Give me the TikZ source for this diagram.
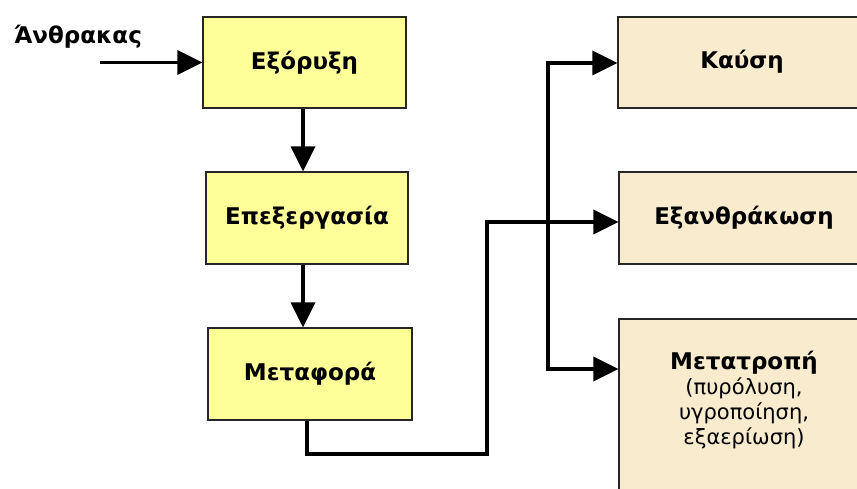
\documentclass[tikz,border=0pt]{standalone}
\usepackage{fontspec}
\setmainfont{DejaVu Sans}
\usetikzlibrary{arrows.meta}
\definecolor{boxyellow}{RGB}{255,255,153}
\definecolor{boxbeige}{RGB}{249,235,206}
\tikzset{
  ybox/.style={draw=black!85, line width=1.2bp, fill=boxyellow, minimum width=203bp, minimum height=91bp, inner sep=0pt, font=\fontsize{23bp}{27bp}\selectfont\bfseries},
  bbox/.style={draw=black!85, line width=1.2bp, fill=boxbeige, minimum width=250bp, inner sep=0pt},
  conn/.style={line width=3.6bp, line join=miter},
  arr/.style={conn, -{Triangle[length=25bp,width=24bp]}},
  lbl/.style={font=\fontsize{23bp}{27bp}\selectfont\bfseries, inner sep=0pt},
}
\begin{document}
\begin{tikzpicture}[x=1bp,y=-1bp]
\useasboundingbox (0,0) rectangle (857,489);
\clip (0,0) rectangle (857,489);
% left column
\node[ybox] (b1) at (304.5,62.5) {Εξόρυξη};
\node[ybox, minimum width=202bp, minimum height=92bp] (b2) at (307,218) {Επεξεργασία};
\node[ybox, minimum width=204bp, minimum height=92bp] (b3) at (310,374) {Μεταφορά};
% right column
\node[bbox, minimum height=91bp] (k) at (743,62.5) {};
\node[lbl] (kt) at (742,62) {Καύση};
\node[bbox, minimum height=92bp] (e) at (744,218) {};
\node[lbl] (et) at (744,218) {Εξανθράκωση};
\node[bbox, minimum height=200bp] (m) at (744,419) {};
\node[align=center, inner sep=0pt, font=\fontsize{21bp}{25bp}\selectfont] (mt) at (744,400)
  {{\fontsize{23bp}{25bp}\selectfont\bfseries Μετατροπή}\\(πυρόλυση,\\υγροποίηση,\\εξαερίωση)};
% input
\node[lbl] (in) at (78,37) {Άνθρακας};
\coordinate (ins) at (100,62.5);
\draw[arr] (ins) -- (b1.west);
\draw[arr] (b1.south) ++(-1.5,0) coordinate (d1) -- (d1 |- b2.north);
\draw[arr] (b2.south) ++(-4,0) coordinate (d2) -- (d2 |- b3.north);
% to Εξανθράκωση
\coordinate (p1) at (307,454);
\coordinate (p2) at (487,454);
\coordinate (p3) at (487,222);
\draw[arr] (b3.south -| p1) -- (p1) -- (p2) -- (p3) -- (p3 -| e.west);
% branch to Καύση and Μετατροπή
\coordinate (q1) at (548,63);
\coordinate (q2) at (548,369);
\draw[arr] (q2) -- (q1) -- (q1 -| k.west);
\draw[arr] (q1) -- (q2) -- (q2 -| m.west);
\end{tikzpicture}
\end{document}
